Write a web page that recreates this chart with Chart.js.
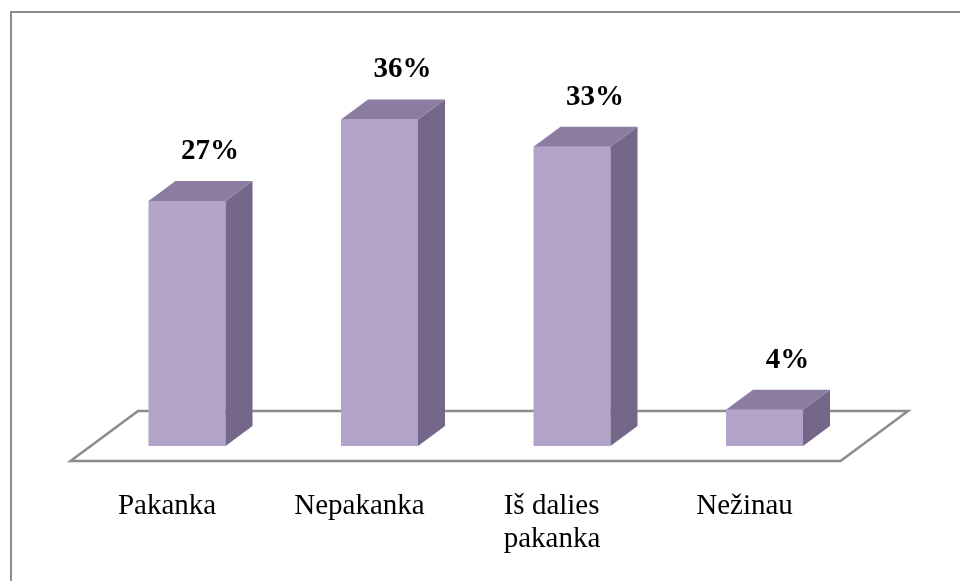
<!DOCTYPE html>
<html>
<head>
<meta charset="utf-8">
<title>Pakanka / Nepakanka</title>
<script src="https://cdn.jsdelivr.net/npm/chart.js@4"></script>
<style>
  html, body { margin: 0; padding: 0; background: #ffffff; }
  #wrap { width: 960px; height: 581px; }
</style>
</head>
<body>
<div id="wrap"><canvas id="c" width="960" height="581"></canvas></div>
<script>
// Survey answers and their shares (%)
const categories = ['Pakanka', 'Nepakanka', ['Iš dalies', 'pakanka'], 'Nežinau'];
const shares = [27, 36, 33, 4];
const valueLabels = ['27%', '36%', '33%', '4%'];

// 3D look: depth of each column and of the floor
const DEPTH_X = 27, DEPTH_Y = 20;
const FRONT_COLOR = '#b2a3c8';
const SIDE_COLOR = '#74678a';
const TOP_COLOR = '#8a7da1';
const LINE_GRAY = '#8c8c8c';

const frame = {
  id: 'frame',
  beforeDraw(chart) {
    const ctx = chart.ctx;
    ctx.save();
    ctx.fillStyle = '#ffffff';
    ctx.fillRect(0, 0, chart.width, chart.height);
    ctx.strokeStyle = LINE_GRAY;
    ctx.lineWidth = 2;
    ctx.beginPath();
    ctx.moveTo(11, chart.height);
    ctx.lineTo(11, 12);
    ctx.lineTo(chart.width, 12);
    ctx.stroke();
    ctx.restore();
  }
};

// Floor plane under the columns
const floor = {
  id: 'floor',
  beforeDatasetsDraw(chart) {
    const { ctx, chartArea } = chart;
    const y0 = chart.scales.y.getPixelForValue(0);
    const frontY = y0 + 15, backY = y0 - 35;
    const k = DEPTH_X / DEPTH_Y;
    const L = chartArea.left, R = chartArea.right;
    ctx.save();
    ctx.strokeStyle = LINE_GRAY;
    ctx.lineWidth = 2.5;
    ctx.lineJoin = 'miter';
    ctx.beginPath();
    ctx.moveTo(L - 15 * k, frontY);
    ctx.lineTo(R - 15 * k, frontY);
    ctx.lineTo(R + 35 * k, backY);
    ctx.lineTo(L + 35 * k, backY);
    ctx.closePath();
    ctx.stroke();
    ctx.restore();
  }
};

// Side and top faces, value labels and category labels
const columns3d = {
  id: 'columns3d',
  afterDatasetsDraw(chart) {
    const { ctx } = chart;
    const meta = chart.getDatasetMeta(0);
    const xScale = chart.scales.x;
    ctx.save();
    meta.data.forEach((bar, i) => {
      const p = bar.getProps(['x', 'y', 'base', 'width'], true);
      const x1 = p.x - p.width / 2, x2 = p.x + p.width / 2;
      const top = p.y, base = p.base;
      // right side
      ctx.fillStyle = SIDE_COLOR;
      ctx.beginPath();
      ctx.moveTo(x2, top);
      ctx.lineTo(x2 + DEPTH_X, top - DEPTH_Y);
      ctx.lineTo(x2 + DEPTH_X, base - DEPTH_Y);
      ctx.lineTo(x2, base);
      ctx.closePath();
      ctx.fill();
      // top
      ctx.fillStyle = TOP_COLOR;
      ctx.beginPath();
      ctx.moveTo(x1, top);
      ctx.lineTo(x1 + DEPTH_X, top - DEPTH_Y);
      ctx.lineTo(x2 + DEPTH_X, top - DEPTH_Y);
      ctx.lineTo(x2, top);
      ctx.closePath();
      ctx.fill();
      // value label
      ctx.fillStyle = '#000000';
      ctx.font = 'bold 29px "Liberation Serif", "Times New Roman", serif';
      ctx.textAlign = 'center';
      ctx.textBaseline = 'alphabetic';
      ctx.fillText(valueLabels[i], p.x + 23, top - 42);
    });
    // category labels along the front edge of the floor
    ctx.font = '29px "Liberation Serif", "Times New Roman", serif';
    ctx.fillStyle = '#000000';
    ctx.textAlign = 'left';
    categories.forEach((cat, i) => {
      const lines = Array.isArray(cat) ? cat : [cat];
      const cx = xScale.getPixelForValue(i) - 20;
      const w = Math.max(...lines.map(s => ctx.measureText(s).width));
      lines.forEach((s, j) => {
        ctx.fillText(s, cx - w / 2, 514 + j * 33);
      });
    });
    ctx.restore();
  }
};

new Chart(document.getElementById('c'), {
  type: 'bar',
  data: {
    labels: categories,
    datasets: [{
      data: shares,
      backgroundColor: FRONT_COLOR,
      borderWidth: 0,
      categoryPercentage: 1,
      barPercentage: 0.4
    }]
  },
  options: {
    responsive: false,
    devicePixelRatio: 1,
    animation: false,
    layout: { padding: { left: 90.75, right: 99.25, top: 83.2, bottom: 135 } },
    plugins: { legend: { display: false }, tooltip: { enabled: false } },
    scales: {
      x: { display: false, offset: true },
      y: { display: false, min: 0, max: 40 }
    }
  },
  plugins: [frame, floor, columns3d]
});
</script>
</body>
</html>
